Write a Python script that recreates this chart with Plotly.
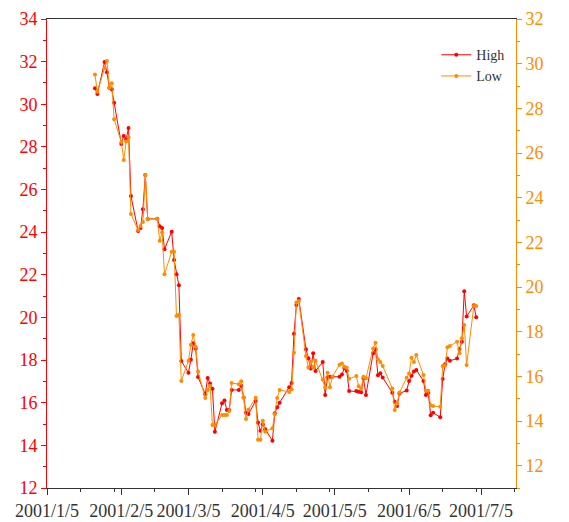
import plotly.graph_objects as go

dates = [
    "2001-01-25", "2001-01-26", "2001-01-29", "2001-01-30", "2001-01-31", "2001-02-01", "2001-02-02",
    "2001-02-05", "2001-02-06", "2001-02-07", "2001-02-08", "2001-02-09",
    "2001-02-12", "2001-02-13", "2001-02-14", "2001-02-15", "2001-02-16",
    "2001-02-20", "2001-02-21", "2001-02-22", "2001-02-23",
    "2001-02-26", "2001-02-27", "2001-02-28", "2001-03-01", "2001-03-02",
    "2001-03-05", "2001-03-06", "2001-03-07", "2001-03-08", "2001-03-09",
    "2001-03-12", "2001-03-13", "2001-03-14", "2001-03-15", "2001-03-16",
    "2001-03-19", "2001-03-20", "2001-03-21", "2001-03-22", "2001-03-23",
    "2001-03-26", "2001-03-27", "2001-03-28", "2001-03-29", "2001-03-30",
    "2001-04-02", "2001-04-03", "2001-04-04", "2001-04-05", "2001-04-06",
    "2001-04-09", "2001-04-10", "2001-04-11", "2001-04-12",
    "2001-04-16", "2001-04-17", "2001-04-18", "2001-04-19", "2001-04-20",
    "2001-04-23", "2001-04-24", "2001-04-25", "2001-04-26", "2001-04-27",
    "2001-04-30", "2001-05-01", "2001-05-02", "2001-05-03", "2001-05-04",
    "2001-05-07", "2001-05-08", "2001-05-09", "2001-05-10", "2001-05-11",
    "2001-05-14", "2001-05-15", "2001-05-16", "2001-05-17", "2001-05-18",
    "2001-05-21", "2001-05-22", "2001-05-23", "2001-05-24", "2001-05-25",
    "2001-05-29", "2001-05-30", "2001-05-31", "2001-06-01",
    "2001-06-04", "2001-06-05", "2001-06-06", "2001-06-07", "2001-06-08",
    "2001-06-11", "2001-06-12", "2001-06-13", "2001-06-14", "2001-06-15",
    "2001-06-18", "2001-06-19", "2001-06-20", "2001-06-21", "2001-06-22",
    "2001-06-25", "2001-06-26", "2001-06-27", "2001-06-28", "2001-06-29",
    "2001-07-02", "2001-07-03",
]

high = [
    30.75, 30.48, 31.98, 31.50, 30.78, 30.70, 30.07,
    28.14, 28.51, 28.36, 28.89, 25.70,
    24.06, 24.20, 25.07, 26.68, 24.62,
    24.63, 24.28, 24.20, 23.20,
    24.02, 22.70, 22.03, 21.51, 17.96,
    17.41, 18.02, 18.79, 18.54, 17.21,
    16.40, 17.16, 16.90, 16.65, 14.64,
    15.97, 16.10, 15.66, 15.66, 16.60,
    16.60, 16.80, 16.25, 15.53, 15.47,
    16.08, 15.07, 14.68, 14.99, 14.76,
    14.22, 15.51, 15.79, 16.00,
    16.73, 16.93, 19.23, 20.59, 20.87,
    18.51, 18.09, 17.60, 18.32, 17.49,
    17.91, 16.36, 17.19, 17.22, 17.22,
    17.22, 17.32, 17.63, 17.50, 16.55,
    16.55, 16.52, 16.49, 17.15, 16.36,
    18.32, 18.51, 17.29, 17.38, 17.18,
    16.47, 16.04, 15.85, 16.44,
    16.57, 17.02, 17.26, 17.46, 17.54,
    17.02, 16.36, 16.47, 15.41, 15.53,
    15.32, 17.11, 17.80, 18.07, 17.97,
    18.07, 18.52, 18.86, 21.23, 20.04,
    20.57, 20.01,
]

low = [
    29.51, 28.74, 29.81, 30.12, 28.92, 29.12, 27.51,
    26.49, 25.69, 26.51, 26.70, 23.27,
    22.55, 22.73, 22.91, 25.01, 23.04,
    23.06, 22.07, 22.45, 20.57,
    21.58, 21.58, 18.70, 18.76, 15.79,
    16.70, 17.41, 17.85, 17.32, 16.22,
    15.03, 15.39, 15.58, 13.82, 13.82,
    14.27, 14.27, 14.27, 14.45, 15.70,
    15.65, 15.78, 15.04, 14.09, 14.52,
    15.04, 13.16, 13.16, 14.01, 13.52,
    13.67, 14.30, 15.03, 15.39,
    15.30, 15.42, 17.06, 19.31, 19.37,
    16.91, 16.40, 16.65, 16.40, 16.70,
    15.86, 15.51, 16.16, 15.51, 15.98,
    16.52, 16.58, 16.43, 16.38, 15.89,
    16.01, 15.56, 15.44, 15.98, 15.91,
    17.25, 17.50, 16.77, 16.64, 16.46,
    15.46, 14.49, 14.79, 15.28,
    15.94, 16.13, 16.83, 16.64, 16.95,
    16.06, 15.35, 15.35, 14.71, 14.67,
    14.64, 16.46, 16.47, 17.30, 17.36,
    17.55, 17.03, 17.71, 18.30, 16.51,
    19.15, 19.15,
]

series_names = ["High", "Low"]

RED = "#FF0000"
ORANGE = "#FF8C00"
FONT = "Liberation Serif, Times New Roman, serif"

minor_ticks = ["2001-01-19", "2001-02-02", "2001-02-19", "2001-03-19", "2001-04-02",
               "2001-04-19", "2001-05-03", "2001-05-19", "2001-06-02", "2001-06-19",
               "2001-07-03", "2001-07-19"]

fig = go.Figure()
fig.add_trace(go.Scatter(
    x=dates, y=high, name=series_names[0], mode="lines+markers",
    line=dict(color=RED, width=1), marker=dict(color=RED, size=4),
    yaxis="y",
))
fig.add_trace(go.Scatter(
    x=dates, y=low, name=series_names[1], mode="lines+markers",
    line=dict(color=ORANGE, width=1), marker=dict(color=ORANGE, size=4),
    yaxis="y2",
))

fig.update_layout(
    width=561, height=514,
    margin=dict(l=39, r=53, t=11, b=34, autoexpand=False),
    paper_bgcolor="white", plot_bgcolor="white",
    font=dict(family=FONT, size=16, color="#333333"),
    showlegend=True,
    legend=dict(x=0.83, y=0.957, xanchor="left", yanchor="top",
                bgcolor="rgba(0,0,0,0)", font=dict(family=FONT, size=14, color="#333333"),
                itemwidth=30, tracegroupgap=0),
    xaxis=dict(
        type="date", range=["2001-01-05", "2001-07-19 14:00"], automargin=False,
        tick0="2001-01-05", dtick="M1", tickformat="%Y/%-m/%-d",
        ticks="outside", ticklen=6, tickwidth=1, tickcolor="#333333",
        showline=True, linecolor="#333333", linewidth=1, mirror=True,
        showgrid=False, zeroline=False,
        tickfont=dict(family=FONT, size=18, color="#333333"),
        minor=dict(tickmode="array", tickvals=minor_ticks, ticks="outside",
                   ticklen=3, tickcolor="#333333", showgrid=False),
    ),
    yaxis=dict(
        range=[12, 34], tick0=12, dtick=2, automargin=False,
        ticks="outside", ticklen=5, tickwidth=1, tickcolor=RED,
        showline=True, linecolor=RED, linewidth=1,
        showgrid=False, zeroline=False,
        tickfont=dict(family=FONT, size=18, color=RED),
        minor=dict(dtick=1, ticks="outside", ticklen=3, tickcolor=RED, showgrid=False),
    ),
    yaxis2=dict(
        overlaying="y", side="right", automargin=False,
        range=[11, 32], tick0=12, dtick=2,
        ticks="outside", ticklen=5, tickwidth=1, tickcolor=ORANGE,
        showline=True, linecolor=ORANGE, linewidth=1,
        showgrid=False, zeroline=False,
        tickfont=dict(family=FONT, size=18, color=ORANGE),
        minor=dict(dtick=1, tick0=11, ticks="outside", ticklen=3, tickcolor=ORANGE, showgrid=False),
    ),
)

fig.write_html("out.html")
